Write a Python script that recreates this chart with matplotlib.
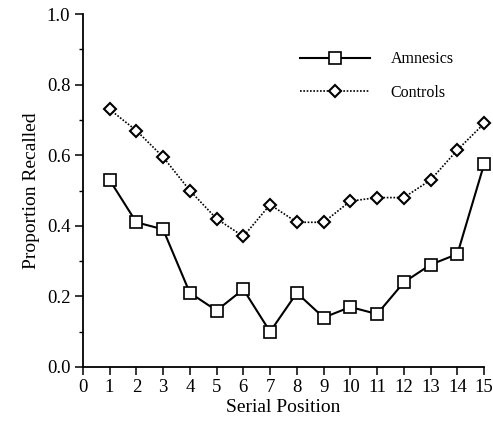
import numpy as np
import matplotlib.pyplot as plt
from matplotlib.ticker import MultipleLocator

plt.rcParams['font.family'] = ['Liberation Serif', 'DejaVu Serif']

positions = np.arange(1, 16)
amnesics = [0.53, 0.41, 0.39, 0.21, 0.16, 0.22, 0.10, 0.21, 0.14, 0.17, 0.15, 0.24, 0.29, 0.32, 0.575]
controls = [0.73, 0.67, 0.595, 0.50, 0.42, 0.37, 0.46, 0.41, 0.41, 0.47, 0.48, 0.48, 0.53, 0.615, 0.69]

fig = plt.figure(figsize=(4.93, 4.26), dpi=100)
ax = fig.add_axes([0.168, 0.1385, 0.814, 0.8285])

ax.plot(positions, amnesics, color='black', lw=1.5, marker='s', markersize=9,
        markerfacecolor='white', markeredgecolor='black', markeredgewidth=1.2,
        clip_on=False, zorder=3, label='Amnesics')
ax.plot(positions, controls, color='black', lw=1.2, ls=(0, (1, 1)), marker='D',
        markersize=6, markerfacecolor='white', markeredgecolor='black',
        markeredgewidth=1.5, clip_on=False, zorder=3, label='Controls')

ax.set_xlim(0, 15)
ax.set_ylim(0, 1.0)
ax.xaxis.set_major_locator(MultipleLocator(1))
ax.yaxis.set_major_locator(MultipleLocator(0.2))
ax.yaxis.set_minor_locator(MultipleLocator(0.1))
ax.yaxis.set_major_formatter(plt.FuncFormatter(lambda v, p: '%.1f' % v))

for side in ['top', 'right']:
    ax.spines[side].set_visible(False)
for side in ['left', 'bottom']:
    ax.spines[side].set_linewidth(1.3)

ax.tick_params(axis='both', which='major', direction='out', length=6, width=1.1,
               labelsize=13.5, pad=3)
ax.tick_params(axis='y', which='minor', direction='out', length=3, width=1)

ax.set_xlabel('Serial Position', fontsize=14, labelpad=2)
ax.set_ylabel('Proportion Recalled', fontsize=14, labelpad=5)

ax.legend(loc='upper right', bbox_to_anchor=(0.96, 0.935), frameon=False,
          fontsize=11.5, handlelength=4.4, handletextpad=1.3, labelspacing=1.1)

fig.savefig('out.png', dpi=100)
